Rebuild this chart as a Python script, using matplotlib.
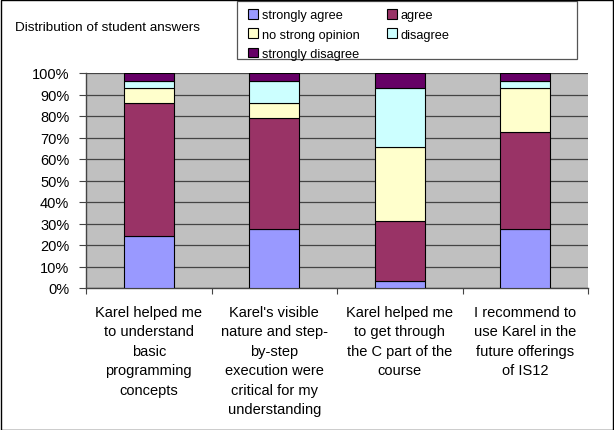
import matplotlib
matplotlib.use("Agg")
import matplotlib.pyplot as plt
import numpy as np
from matplotlib.patches import Rectangle
from matplotlib.ticker import FixedLocator, PercentFormatter

# percentages per answer level, one value per question
categories = [
    "Karel helped me\nto understand\nbasic\nprogramming\nconcepts",
    "Karel's visible\nnature and step-\nby-step\nexecution were\ncritical for my\nunderstanding",
    "Karel helped me\nto get through\nthe C part of the\ncourse",
    "I recommend to\nuse Karel in the\nfuture offerings\nof IS12",
]
levels = ["strongly agree", "agree", "no strong opinion", "disagree", "strongly disagree"]
strongly_agree = [24.1, 27.6, 3.4, 27.6]
agree = [62.1, 51.7, 27.6, 44.8]
no_strong_opinion = [6.9, 6.9, 34.5, 20.7]
disagree = [3.4, 10.3, 27.6, 3.4]
strongly_disagree = [3.4, 3.4, 6.9, 3.4]
colors = ["#9999FF", "#993366", "#FFFFCC", "#CCFFFF", "#660066"]

plt.rcParams["font.family"] = ["Liberation Sans", "DejaVu Sans"]

W, H = 614, 431
fig = plt.figure(figsize=(W / 100, H / 100), dpi=100)
ax = fig.add_axes([86 / W, 1 - 289 / H, (588 - 86) / W, (289 - 74) / H])
ax.set_facecolor("#C0C0C0")

x = np.arange(len(categories))
bottom = np.zeros(len(categories))
handles = []
for vals, lab, col in zip([strongly_agree, agree, no_strong_opinion, disagree, strongly_disagree],
                          levels, colors):
    b = ax.bar(x, vals, 0.4, bottom=bottom, color=col, edgecolor="black",
               linewidth=0.8, label=lab, zorder=3)
    handles.append(b)
    bottom += np.array(vals)

ax.set_ylim(0, 100)
ax.set_xlim(-0.5, len(categories) - 0.5)
ax.yaxis.set_major_locator(FixedLocator(np.arange(0, 101, 10)))
ax.yaxis.set_major_formatter(PercentFormatter(decimals=0))
ax.grid(axis="y", color="#444444", linewidth=0.9, zorder=1)
ax.set_xticks(np.arange(-0.5, len(categories), 1.0))
ax.set_xticklabels([])
ax.set_xticks(x, minor=True)
ax.set_xticklabels(categories, minor=True, fontsize=10.5, linespacing=1.5, va="top")
ax.tick_params(axis="x", which="minor", length=0, pad=12)
ax.tick_params(axis="x", which="major", length=4, color="#444444", direction="out")
ax.tick_params(axis="y", length=5, color="#444444", labelsize=10.5, pad=7)
for s in ["top", "right"]:
    ax.spines[s].set_visible(False)
for s in ["left", "bottom"]:
    ax.spines[s].set_color("#444444")
    ax.spines[s].set_linewidth(1.0)

fig.text(15 / W, 1 - 28 / H, "Distribution of student answers", fontsize=9.7,
         va="center", ha="left")

order = [0, 2, 4, 1, 3]
leg = fig.legend([handles[i] for i in order], [levels[i] for i in order], ncol=2,
                 loc="upper left", bbox_to_anchor=(248 / W, 1 - 10 / H),
                 fontsize=9.2, frameon=False,
                 handlelength=0.8, handleheight=0.8, handletextpad=0.3,
                 columnspacing=2.1, labelspacing=0.55, borderpad=0, borderaxespad=0)
fig.patches.append(Rectangle((237 / W, 1 - 60 / H), 340 / W, 58 / H,
                             transform=fig.transFigure, fill=False,
                             edgecolor="#555555", linewidth=0.9))

fig.patches.append(Rectangle((0.5 / W, 0.5 / H), 1 - 1.5 / W, 1 - 1.5 / H,
                             transform=fig.transFigure, fill=False,
                             edgecolor="black", linewidth=1.0))

fig.savefig("out.png", dpi=100)
